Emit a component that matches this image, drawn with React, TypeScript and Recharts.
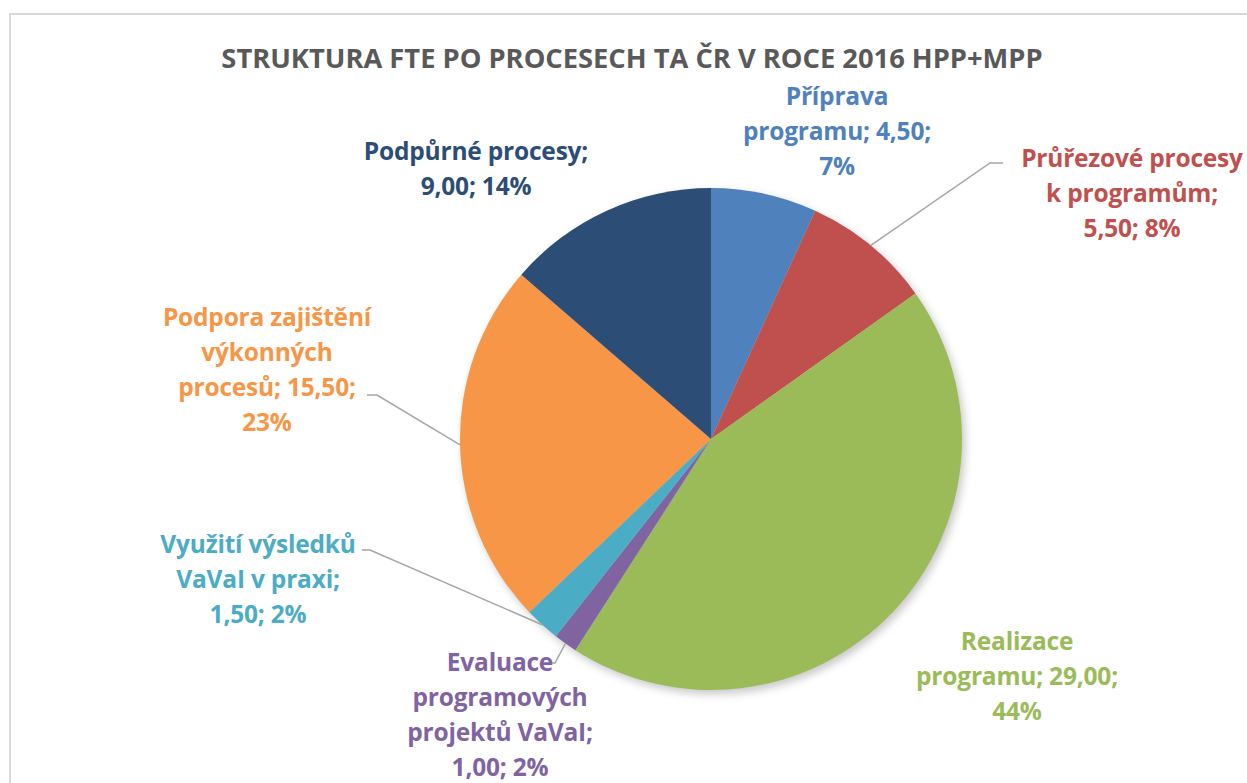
import React from 'react';
import { PieChart, Pie, Cell } from 'recharts';

const title = 'STRUKTURA FTE PO PROCESECH TA ČR V ROCE 2016 HPP+MPP';
const categories = [
  'Příprava programu',
  'Průřezové procesy k programům',
  'Realizace programu',
  'Evaluace programových projektů VaVaI',
  'Využití výsledků VaVaI v praxi',
  'Podpora zajištění výkonných procesů',
  'Podpůrné procesy',
];
const values = [4.5, 5.5, 29.0, 1.0, 1.5, 15.5, 9.0];
const colors = ['#4F81BD', '#C0504D', '#9BBB59', '#8064A2', '#4BACC6', '#F79646', '#2C4D75'];
const labelLines = [
  ['Příprava', 'programu; 4,50;', '7%'],
  ['Průřezové procesy', 'k programům;', '5,50; 8%'],
  ['Realizace', 'programu; 29,00;', '44%'],
  ['Evaluace', 'programových', 'projektů VaVaI;', '1,00; 2%'],
  ['Využití výsledků', 'VaVaI v praxi;', '1,50; 2%'],
  ['Podpora zajištění', 'výkonných', 'procesů; 15,50;', '23%'],
  ['Podpůrné procesy;', '9,00; 14%'],
];

// label placement relative to pie centre (text block centre x, first line y, optional leader elbow/end)
const labelLayout: { dx: number; dy: number; leader?: [number, number, number, number] }[] = [
  { dx: 126, dy: -344 },
  { dx: 421, dy: -282, leader: [279, -276, 292, -276] },
  { dx: 306, dy: 201 },
  { dx: -211, dy: 222, leader: [-156, 224, -168, 224] },
  { dx: -453, dy: 104, leader: [-341, 111, -349, 111] },
  { dx: -444, dy: -123, leader: [-334, -44, -344, -44] },
  { dx: -235, dy: -289 },
];

const data = categories.map((name, i) => ({ name, value: values[i] }));

const FONT = '"Open Sans", "Noto Sans", sans-serif';
const LINE_H = 35.3;
const LABEL_SIZE = 24.5;

const renderLabel = (props: any) => {
  const { cx, cy, midAngle, outerRadius, index } = props;
  const RAD = Math.PI / 180;
  const ex = cx + outerRadius * Math.cos(-midAngle * RAD);
  const ey = cy + outerRadius * Math.sin(-midAngle * RAD);
  const lay = labelLayout[index];
  const tx = cx + lay.dx;
  const ty = cy + lay.dy;
  const lines = labelLines[index];
  return (
    <g key={`lbl-${index}`}>
      {lay.leader && (
        <polyline
          points={`${ex},${ey} ${cx + lay.leader[0]},${cy + lay.leader[1]} ${cx + lay.leader[2]},${cy + lay.leader[3]}`}
          fill="none"
          stroke="#A6A6A6"
          strokeWidth={1.5}
        />
      )}
      <text
        x={tx}
        y={ty}
        textAnchor="middle"
        fill={colors[index]}
        fontFamily={FONT}
        fontWeight={700}
        fontSize={LABEL_SIZE}
        letterSpacing={-0.2}
      >
        {lines.map((ln, k) => (
          <tspan key={k} x={tx} y={ty + k * LINE_H} dominantBaseline="central">
            {ln}
          </tspan>
        ))}
      </text>
    </g>
  );
};

export default function App() {
  return (
    <div style={{ position: 'absolute', left: 0, top: 0, width: 1247, height: 783, background: '#fff', overflow: 'hidden' }}>
      <div
        style={{
          position: 'absolute',
          left: 9,
          top: 13,
          width: 1260,
          height: 800,
          border: '2px solid #D9D9D9',
          boxSizing: 'border-box',
        }}
      />
      <div style={{ position: 'absolute', left: 0, top: 0 }}>
        <PieChart width={1247} height={783} margin={{ top: 0, right: 0, bottom: 0, left: 0 }}>
          <text
            x={632}
            y={57}
            textAnchor="middle"
            dominantBaseline="central"
            fill="#595959"
            fontFamily={FONT}
            fontWeight={700}
            fontSize={27.3}
          >
            {title}
          </text>
          <Pie
            data={data}
            dataKey="value"
            nameKey="name"
            cx={714}
            cy={443}
            outerRadius={251}
            startAngle={90}
            endAngle={-270}
            stroke="none"
            isAnimationActive={false}
            label={false}
            labelLine={false}
          >
            {data.map((d, i) => (
              <Cell key={`s-${i}`} fill="#000" fillOpacity={0.22} style={{ filter: 'blur(4px)' }} />
            ))}
          </Pie>
          <Pie
            data={data}
            dataKey="value"
            nameKey="name"
            cx={711}
            cy={439}
            outerRadius={251}
            startAngle={90}
            endAngle={-270}
            stroke="none"
            isAnimationActive={false}
            label={renderLabel}
            labelLine={false}
          >
            {data.map((d, i) => (
              <Cell key={`c-${i}`} fill={colors[i]} />
            ))}
          </Pie>
        </PieChart>
      </div>
    </div>
  );
}
